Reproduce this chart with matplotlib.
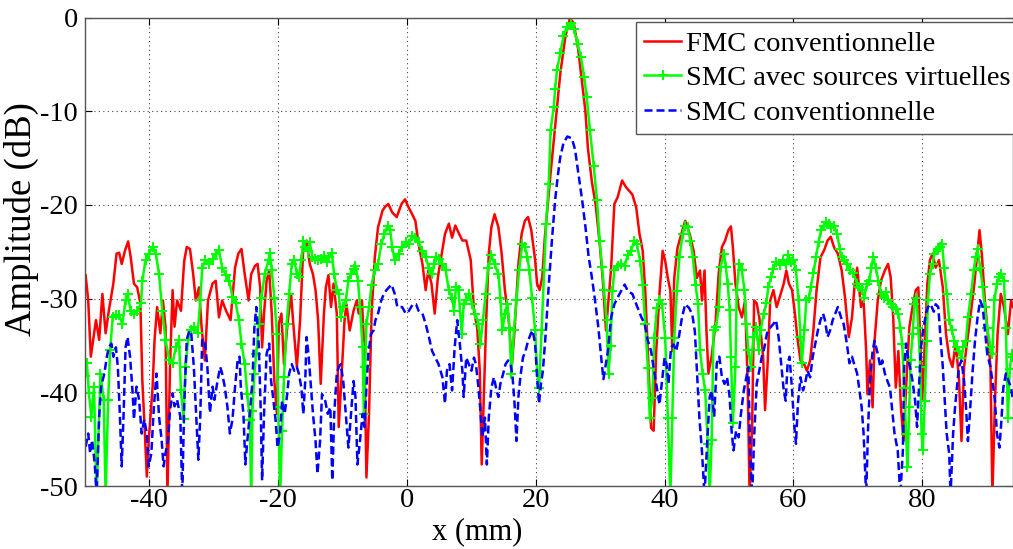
import matplotlib
matplotlib.use("Agg")
import matplotlib.pyplot as plt

plt.rcParams['font.family'] = ['Liberation Serif', 'DejaVu Serif']
plt.rcParams['axes.unicode_minus'] = False

# ---------------- data (x in mm, amplitude in dB) ----------------
fmc_x = [-49.9, -49.5, -49.1, -48.3, -47.8, -47.3, -46.8, -46.3, -45.6, -45.1, -44.7, -44.3, -43.8, -43.3,
         -42.9, -42.4, -41.9, -41.4, -41.1, -40.7, -40.4, -40.1, -39.5, -39.2, -38.8, -38.3, -37.9, -37.5,
         -37.2, -36.8, -36.4, -36.1, -35.7, -35.1, -34.6, -34.2, -33.7, -33.2, -32.8, -32.3, -31.9, -31.4,
         -30.9, -30.2, -29.7, -29.2, -28.7, -28.1, -27.4, -26.7, -26.2, -25.7,
         -25.2, -24.6, -24.2, -23.6, -23.2, -22.8, -22.5, -22.2, -21.8, -21.4, -21.0, -20.6, -20.2, -19.9,
         -19.5, -19.1, -18.5, -18.0, -17.7, -17.1, -16.6, -16.1, -15.6, -15.1, -14.6, -14.2, -13.8, -13.4,
         -12.9, -12.6, -12.2, -11.8, -11.4, -10.9, -10.6, -10.2, -9.7, -9.4, -8.9, -8.3, -7.8, -7.5, -7.0,
         -6.6, -6.3, -5.9, -5.5, -5.0, -4.5, -3.8, -3.4, -2.9, -2.3, -1.6,
         -0.85, -0.3, 0.2, 0.8, 1.3, 1.8, 2.4, 2.9, 3.3, 3.8, 4.3, 4.8, 5.4, 5.9, 6.5, 7.0, 7.5, 8.1, 8.6,
         9.2, 9.9, 10.4, 10.9, 11.3, 11.6, 11.9, 12.3, 12.7, 13.1, 13.6, 14.2, 14.7, 15.2, 15.8, 16.3, 16.7,
         17.3, 17.8, 18.3, 18.8, 19.3, 19.9, 20.2, 20.6, 21.0, 21.4,
         22.3, 23.0, 23.8, 24.6, 25.3, 25.9, 26.6, 27.2, 27.7, 28.1, 28.7, 29.3, 29.9, 30.4, 30.9, 31.3,
         31.7, 32.2, 32.7, 33.4, 34.0, 35.0, 35.6, 36.1, 36.6, 37.0, 37.4, 37.9, 38.3, 38.7, 39.2, 39.7,
         40.1, 40.5, 40.9, 41.2, 41.5, 42.0, 42.6, 43.2, 43.9, 44.5, 45.0,
         45.5, 45.8, 46.2, 46.5, 46.8, 47.3, 47.9, 48.4, 48.9, 49.4, 49.9, 50.3, 50.6, 51.0, 51.5, 52.0,
         52.5, 52.9, 53.2, 53.6, 53.9, 54.3, 54.7, 55.3, 55.6, 56.0, 56.4, 56.9, 57.4, 57.9, 58.5, 58.9,
         59.3, 59.8, 60.3, 60.6, 61.1, 61.6, 62.1, 62.6, 63.1, 63.6, 64.2, 64.8, 65.3, 65.8, 66.3, 66.9,
         67.5, 68.0, 68.6, 69.1, 69.5, 69.9,
         70.5, 70.9, 71.3, 71.5, 71.9, 72.3, 72.6, 73.1, 73.6, 74.2, 74.7, 75.1, 75.5, 75.9, 76.3, 76.7,
         77.1, 77.5, 78.0, 78.5, 79.0, 79.4, 79.7, 80.0, 80.4, 80.8, 81.2, 81.6, 82.1, 82.6, 83.2, 83.7,
         84.2, 84.7, 85.2, 85.7, 86.1, 86.5, 87.0, 87.6, 88.1, 88.5, 88.9, 89.3, 89.7, 90.1, 90.6, 90.9,
         91.3, 91.7, 92.2, 92.7, 93.3, 93.8, 94.1]
fmc_y = [-27.5, -30.2, -36.2, -32.3, -34.4, -29.5, -33.7, -31.3, -28.4, -25.2, -25.1, -26.3, -24.9, -23.9,
         -25.6, -28.4, -28.8, -30.5, -38.7, -44.4, -49.0, -45.1, -39.4, -34.4, -30.9, -33.7, -30.2, -33.0,
         -51.0, -37.3, -29.1, -33.0, -30.2, -31.3, -26.0, -24.5, -24.7, -27.4, -30.2, -28.8, -33.0, -36.6,
         -30.2, -28.4, -28.1, -32.0, -30.2, -31.3, -32.3, -26.7, -25.2, -24.7,
         -27.4, -30.2, -27.4, -26.5, -26.3, -28.8, -35.2, -31.6, -28.1, -27.0, -31.6, -38.8, -42.3, -32.7,
         -31.6, -37.0, -32.3, -29.5, -32.3, -37.3, -32.3, -24.5, -23.8, -26.3, -27.4, -29.1, -32.3, -39.1,
         -31.6, -28.8, -27.5, -30.9, -28.4, -31.6, -43.7, -38.8, -32.3, -30.6, -33.4, -31.3, -30.2, -31.6, -30.2,
         -35.9, -49.1, -42.3, -31.6, -25.6, -22.4, -20.6, -20.2, -19.9, -20.8, -21.3,
         -19.9, -19.4, -20.2, -21.0, -21.7, -24.2, -26.3, -29.1, -27.0, -28.4, -31.6, -27.7, -25.2, -23.1,
         -22.0, -23.5, -22.2, -23.1, -23.8, -23.8, -25.9, -31.3, -33.1, -37.7, -47.7, -41.2, -32.3, -25.2,
         -22.4, -21.0, -22.4, -25.2, -29.1, -32.3, -37.0, -33.4, -26.3, -23.1, -21.7, -21.3, -22.7, -25.9,
         -28.4, -29.1, -27.7, -23.5,
         -16.6, -11.7, -6.0, -2.0, -0.1, -0.6, -3.5, -7.0, -10.0, -14.0, -17.5, -20.0, -24.0, -28.0, -33.4,
         -30.0, -26.7, -19.9, -19.2, -17.4, -18.1, -18.9, -20.3, -23.1, -24.9, -29.2, -35.6, -43.8, -44.1,
         -35.6, -29.5, -24.9, -26.0, -27.8, -29.2, -35.6, -27.8, -24.6, -23.1, -21.7, -23.1, -24.9, -27.8,
         -27.0, -30.2, -27.0, -33.4, -38.0, -36.2, -32.7, -27.3, -24.5, -23.8, -22.7, -22.3, -24.5, -28.4,
         -30.9, -32.0, -30.2, -39.1, -51.0, -43.3, -30.2, -30.5, -32.0, -36.2, -41.9, -36.9, -30.2, -29.1,
         -30.9, -29.8, -28.4, -27.0, -28.4, -29.1, -32.0, -34.1, -36.6, -36.9, -37.7, -36.6, -33.4, -29.1,
         -25.6, -24.8, -23.8, -23.4, -24.5, -25.2, -27.0, -29.8, -34.1, -32.0, -28.6, -26.7,
         -30.9, -30.2, -35.6, -40.2, -36.6, -41.6, -34.5, -30.2, -28.1, -27.0, -26.3, -27.7, -32.0, -39.5,
         -35.6, -41.6, -45.2, -39.5, -33.1, -30.9, -29.1, -28.8, -34.5, -40.9, -34.8, -28.4, -25.9, -25.2,
         -26.7, -25.9, -28.8, -33.8, -36.3, -37.3, -34.8, -38.4, -45.2, -37.3, -34.5, -31.3, -28.4, -25.6,
         -22.7, -25.6, -29.9, -33.1, -37.3, -51.0, -40.9, -33.8, -29.5, -30.9, -33.8, -30.2, -30.9]

smcv_x = [-50.0, -49.7, -49.4, -49.0, -48.6, -48.2, -47.6, -47.1, -46.8, -46.4, -46.1, -45.7, -45.2, -44.7,
          -44.2, -43.7, -43.4, -42.9, -42.4, -41.9, -41.3, -41.1, -40.6, -40.1, -39.5, -39.0, -38.5, -38.0,
          -37.5, -36.9, -36.4, -35.9, -35.4, -35.1, -34.7, -34.4, -34.0, -33.6, -33.1, -32.5, -32.1, -31.8,
          -31.3, -30.7, -30.2, -29.7, -29.2, -28.7, -28.1, -27.6, -27.1, -26.6, -26.1, -25.7,
          -25.2, -24.8, -24.4, -24.2, -24.0, -23.7, -23.4, -23.0, -22.6, -22.1, -21.5, -21.3, -21.0, -20.6,
          -20.2, -20.0, -19.7, -19.4, -19.1, -18.7, -18.3, -17.9, -17.5, -17.1, -16.8, -16.4, -16.1, -15.9,
          -15.4, -15.1, -14.7, -14.3, -13.8, -13.3, -12.9, -12.4, -12.1, -11.7, -11.3, -10.9, -10.6, -10.3,
          -9.9, -9.5, -9.1, -8.7, -8.3, -8.0, -7.6, -7.3, -6.9, -6.7, -6.5, -6.3, -5.9, -5.5, -5.0, -4.5,
          -4.0, -3.5, -3.0, -2.6, -2.3, -1.9,
          -1.3, -0.75, -0.2, 0.3, 0.8, 1.3, 1.8, 2.4, 2.9, 3.4, 3.9, 4.2, 4.5, 4.9, 5.5, 6.0, 6.5, 7.0, 7.3,
          7.6, 8.0, 8.5, 8.8, 9.2, 9.7, 10.1, 10.6, 11.1, 11.4, 11.8, 12.2, 12.6, 13.1, 13.6, 14.2, 14.5,
          14.8, 15.2, 15.6, 15.9, 16.2, 16.6, 17.0, 17.4, 17.9, 18.3, 18.7, 19.0, 19.4, 19.9, 20.2, 20.5,
          20.9, 21.3, 21.6, 22.0,
          22.3, 22.8, 23.0, 23.3, 23.8, 24.3, 24.8, 25.4, 25.9, 26.5, 27.0, 27.5, 27.9, 28.4, 29.0, 29.5,
          29.9, 30.3, 30.6, 31.0, 31.3, 31.6,
          31.9, 32.2, 32.7, 33.2, 33.8, 34.3, 34.8, 35.3, 35.7, 36.2, 36.6, 37.0, 37.4, 37.7, 38.1, 38.4,
          38.8, 39.2, 39.6, 40.1, 40.5, 40.9, 41.2, 41.5, 41.9, 42.3, 42.8, 43.2, 43.6, 44.0, 44.4, 44.8, 45.2,
          45.5, 45.9, 46.3, 46.7, 47.0, 47.3, 47.6, 48.0, 48.4, 48.7, 49.2, 49.5, 49.8, 50.1, 50.3, 50.6,
          51.0, 51.2, 51.6, 52.0, 52.4, 52.7, 53.0, 53.4, 53.8, 54.2, 54.6, 54.9, 55.4, 55.8, 56.1, 56.5,
          56.9, 57.3, 57.9, 58.4, 58.9, 59.2, 59.6, 60.0, 60.4, 60.8, 61.1, 61.3, 61.7, 62.0, 62.4, 62.7,
          63.1, 63.5, 63.9, 64.3, 64.7, 65.1, 65.5, 65.9, 66.3, 66.8, 67.2, 67.5, 67.9, 68.3, 68.8, 69.3,
          69.9, 70.2, 70.6, 71.0, 71.4, 71.8, 72.1, 72.4, 72.8, 73.2, 73.6, 74.0, 74.4, 74.7, 75.1, 75.5,
          75.9, 76.3, 76.6, 76.9, 77.2, 77.5, 77.7, 78.0, 78.2, 78.5, 78.8, 79.1, 79.4, 79.7, 79.9, 80.1,
          80.4, 80.7, 80.9, 81.2, 81.6, 81.9, 82.4, 82.8, 83.1, 83.4, 83.8, 84.2, 84.6, 85.0, 85.4, 85.7,
          86.1, 86.4, 86.8, 87.1, 87.6, 88.0, 88.3, 88.6, 89.0, 89.4, 89.7, 90.1, 90.6, 90.9, 91.2, 91.6,
          91.9, 92.3, 92.7, 93.0, 93.3, 93.6, 93.9, 94.1]
smcv_y = [-38.3, -36.9, -40.1, -42.6, -39.4, -51.0, -38.0, -40.8, -51.0, -40.8, -35.5, -32.0, -31.7, -31.8,
          -32.7, -30.2, -29.5, -31.3, -31.6, -31.3, -30.5, -28.1, -25.9, -25.2, -24.5, -25.2, -27.4, -31.3,
          -34.4, -36.6, -36.9, -35.2, -34.4, -39.8, -42.9, -37.3, -34.4, -33.4, -33.0, -33.7, -30.2, -26.7,
          -25.9, -26.3, -25.8, -25.2, -24.8, -26.7, -27.5, -28.1, -29.8, -30.5, -32.3, -34.8,
          -37.0, -40.2, -43.0, -51.0, -42.0, -38.0, -35.9, -32.7, -29.9, -27.4, -25.9, -25.1, -27.0, -29.9,
          -33.8, -41.6, -51.0, -44.1, -38.4, -32.7, -29.5, -26.3, -25.9, -27.4, -27.7, -25.9, -23.8, -24.5,
          -24.9, -24.0, -25.6, -25.8, -25.9, -25.8, -25.5, -26.1, -25.6, -25.1, -27.4, -29.1, -29.5, -32.0,
          -30.9, -30.2, -28.1, -27.4, -26.8, -26.5, -28.1, -30.9, -35.2, -42.3, -37.3, -32.7, -30.9, -28.5,
          -27.0, -26.3, -24.2, -23.1, -22.2, -22.7, -24.5, -25.9,
          -25.2, -24.5, -24.0, -24.2, -23.3, -23.5, -24.0, -24.9, -25.6, -26.7, -27.4, -26.3, -25.6, -25.8,
          -26.3, -27.0, -29.1, -29.9, -31.3, -28.8, -29.1, -33.8, -30.6, -30.2, -29.5, -30.6, -31.6, -32.7,
          -34.8, -32.3, -29.5, -26.7, -25.4, -26.3, -27.4, -29.9, -33.4, -31.6, -30.6, -33.1, -38.0, -33.4,
          -30.2, -27.0, -24.2, -24.5, -25.6, -27.0, -29.9, -33.4, -37.7, -39.5, -33.4, -27.0, -22.0, -17.8,
          -12.0, -9.5, -7.6, -5.6, -3.8, -2.0, -1.0, -0.6, -1.2, -2.8, -4.2, -6.3, -8.5, -12.0, -15.9, -19.5,
          -23.8, -26.6, -29.1, -32.3, -38.0, -35.1,
          -29.2, -27.0, -26.5, -26.3, -26.5, -25.3, -24.9, -23.8, -24.2, -26.0, -28.5, -32.7, -37.4, -42.7,
          -40.6, -34.2, -31.0, -30.2, -30.6, -34.2, -42.7, -51.0, -42.7, -34.2, -29.2, -25.6, -23.1, -22.2,
          -22.4, -23.8, -25.6, -28.5, -30.6,
          -35.5, -38.0, -39.8, -45.5, -51.0, -45.1, -33.4, -33.0, -30.9, -26.6, -25.2, -26.6, -28.4, -31.2,
          -36.2, -43.3, -37.3, -29.1, -26.3, -27.0, -29.1, -32.7, -35.5, -37.3, -34.1, -33.0, -35.5, -33.4,
          -31.6, -30.5, -28.8, -27.7, -26.8, -26.1, -26.4, -25.9, -26.3, -25.4, -26.1, -25.9, -27.0, -30.2,
          -34.1, -36.9, -33.4, -30.2, -29.9, -28.8, -27.3, -25.6, -24.0, -22.7, -22.2, -21.8, -22.0, -22.5,
          -22.3, -23.1, -24.7, -25.6, -25.9, -26.3, -27.0, -27.3,
          -28.4, -28.8, -29.1, -29.9, -28.4, -28.1, -26.7, -25.6, -26.7, -28.1, -29.5, -29.9, -29.3, -30.2,
          -30.6, -30.9, -31.1, -31.6, -33.1, -34.8, -39.5, -44.4, -48.0, -41.6, -36.6, -33.8, -30.6, -29.9,
          -33.1, -37.3, -44.4, -46.2, -40.9, -34.5, -30.2, -27.4, -26.3, -25.2, -24.7, -24.5, -24.2, -26.7,
          -29.5, -32.3, -33.4, -34.5, -35.2, -35.6, -36.3, -35.2, -34.5, -32.0, -29.5, -27.0, -25.6, -24.7,
          -26.7, -28.8, -30.9, -33.1, -35.2, -35.9, -30.2, -28.4, -27.7, -27.4, -28.1, -33.1, -42.7, -37.5,
          -35.9, -36.2]

smc_x = [-49.9, -49.5, -49.2, -48.9, -48.5, -48.2, -47.8, -47.5, -47.0, -46.6, -46.3, -45.9, -45.6, -45.2,
         -44.9, -44.6, -44.3, -44.0, -43.7, -43.4, -43.0, -42.6, -42.4, -42.0, -41.6, -41.2, -40.8, -40.4,
         -40.1, -39.7, -39.3, -38.9, -38.5, -38.1, -37.8, -37.5, -37.1, -36.8, -36.4, -36.1, -35.7, -35.2,
         -34.9, -34.6, -34.2, -33.8, -33.5, -33.1, -32.8, -32.4, -32.1, -31.8, -31.4, -31.0, -30.6, -30.2,
         -29.9, -29.4, -29.0, -28.7, -28.3, -27.9, -27.5, -27.1, -26.7, -26.3, -26.0,
         -25.8, -25.4, -25.1, -24.8, -24.4, -24.0, -23.7, -23.4, -23.0, -22.7, -22.5, -22.2, -21.8, -21.4,
         -21.1, -20.8, -20.4, -20.1, -19.7, -19.4, -19.0, -18.6, -18.3, -17.9, -17.5, -17.1, -16.8, -16.4,
         -16.1, -15.8, -15.6, -15.3, -14.9, -14.6, -14.2, -13.9, -13.5, -13.2, -12.7, -12.3, -11.9, -11.6,
         -11.3, -10.9, -10.6, -10.3, -9.9, -9.5, -9.1, -8.7, -8.3, -8.0, -7.7, -7.3, -6.9, -6.6, -6.3, -6.0,
         -5.6, -5.2, -4.9, -4.5, -4.0, -3.6, -3.2, -2.8, -2.4, -1.9, -1.5,
         -0.75, -0.2, 0.3, 0.9, 1.4, 1.8, 2.4, 2.9, 3.4, 3.9, 4.4, 4.9, 5.5, 5.9, 6.2, 6.6, 7.0, 7.4, 7.8,
         8.2, 8.6, 8.8, 9.2, 9.6, 10.0, 10.4, 10.7, 11.1, 11.4, 11.7, 12.1, 12.4, 12.7, 13.1, 13.5, 13.9,
         14.2, 14.5, 14.9, 15.3, 15.7, 16.1, 16.4, 16.7, 17.0, 17.3, 17.6, 18.0, 18.4, 18.8, 19.2, 19.5,
         19.9, 20.2, 20.5, 20.8, 21.1, 21.5,
         22.0, 22.5, 23.0, 23.4, 23.8, 24.3, 24.9, 25.6, 26.1, 26.6, 27.2, 27.7, 28.2, 28.7, 29.2, 29.7,
         30.2, 30.5,
         31.2, 31.7, 32.2, 33.0, 33.8, 34.3, 35.0, 35.6, 36.4, 36.9, 37.4, 37.9, 38.3, 38.7, 39.2, 39.6,
         40.0, 40.3, 40.6, 41.0, 41.4, 41.8, 42.2, 42.7, 43.2, 43.8, 44.3, 44.7, 45.0, 45.4, 45.8, 46.2,
         46.6, 47.0, 47.3, 47.7, 48.1, 48.5, 48.9, 49.3, 49.7, 50.1, 50.4, 50.7, 51.1, 51.5, 51.8, 52.3,
         52.7, 53.0, 53.3, 53.6, 53.9, 54.3, 54.7, 55.1, 55.5, 55.9, 56.4, 56.9, 57.3, 57.7, 58.1, 58.5,
         58.8, 59.1, 59.4, 59.8, 60.1, 60.4, 60.7, 61.1, 61.5, 61.8, 62.2, 62.6, 63.0, 63.4, 63.8, 64.2,
         64.6, 64.9, 65.3, 65.7, 66.1, 66.5, 66.9, 67.4, 67.8, 68.3, 68.7, 69.1, 69.4,
         69.9, 70.2, 70.6, 70.9, 71.3, 71.6, 71.9, 72.3, 72.6, 73.1, 73.5, 73.8, 74.2, 74.6, 75.0, 75.4,
         75.7, 76.2, 76.6, 77.0, 77.2, 77.5, 77.8, 78.1, 78.5, 78.9, 79.2, 79.5, 79.8, 80.2, 80.6, 80.9,
         81.3, 81.8, 82.1, 82.5, 82.8, 83.2, 83.5, 83.8, 84.2, 84.4, 84.8, 85.1, 85.4, 85.7, 86.1, 86.5,
         86.8, 87.1, 87.4, 87.8, 88.2, 88.6, 89.0, 89.4, 89.7, 90.1, 90.6, 90.9, 91.3, 91.6, 92.0, 92.3,
         92.6, 93.0, 93.4, 93.8, 94.1]
smc_y = [-45.8, -44.4, -46.5, -45.1, -47.5, -51.0, -42.6, -39.4, -38.0, -36.2, -35.2, -34.8, -36.2, -35.2,
         -37.3, -42.2, -47.9, -42.2, -35.2, -34.1, -36.2, -40.1, -42.9, -39.4, -40.8, -44.4, -42.9, -44.4,
         -47.9, -46.5, -41.5, -38.0, -42.6, -45.1, -47.9, -46.5, -45.1, -41.9, -40.1, -41.5, -40.8, -42.6,
         -51.0, -41.5, -34.4, -33.4, -33.7, -37.3, -41.5, -47.2, -42.6, -34.4, -34.4, -37.3, -42.2, -39.4,
         -40.8, -38.7, -37.3, -38.0, -39.4, -41.5, -44.4, -42.9, -39.4, -36.6, -36.2,
         -39.5, -42.3, -47.7, -45.2, -42.3, -38.8, -33.1, -30.9, -35.2, -42.3, -49.4, -42.3, -35.9, -34.8,
         -38.8, -40.5, -43.0, -45.9, -44.4, -40.9, -42.3, -40.2, -38.0, -37.0, -37.7, -37.3, -38.0, -39.5,
         -42.3, -38.8, -34.1, -35.9, -39.5, -42.3, -45.2, -48.7, -45.2, -40.2, -40.9, -42.3, -41.6, -49.4,
         -42.3, -38.0, -37.3, -37.0, -38.8, -42.3, -45.9, -42.3, -38.8, -40.5, -47.7, -45.2, -42.3, -43.7,
         -39.5, -35.9, -33.8, -33.4, -32.3, -31.6, -30.2, -29.5, -29.1, -28.8, -28.5, -29.5, -30.9,
         -30.9, -31.6, -31.3, -30.6, -30.6, -31.3, -31.6, -32.7, -34.1, -35.6, -36.3, -37.0, -38.4, -41.2,
         -37.7, -37.0, -39.8, -35.2, -32.3, -34.8, -37.7, -40.5, -36.3, -37.0, -37.7, -36.3, -37.0, -39.5,
         -42.0, -44.8, -42.7, -47.7, -42.7, -39.5, -38.4, -39.8, -40.5, -39.1, -38.1, -37.0, -36.6, -37.0,
         -38.4, -41.2, -45.2, -40.5, -38.4, -36.3, -35.6, -34.5, -33.8, -33.4, -34.8, -38.4, -41.2, -39.1,
         -37.7, -34.1,
         -28.7, -23.8, -19.5, -17.0, -14.9, -13.4, -12.7, -12.9, -14.1, -16.6, -19.5, -22.3, -25.5, -27.7,
         -30.2, -33.0, -36.6, -38.6,
         -35.6, -32.0, -30.6, -29.5, -28.5, -29.2, -29.5, -30.6, -32.0, -32.7, -34.5, -35.6, -37.4, -39.1,
         -41.3, -38.8, -36.3, -37.0, -39.1, -35.2, -34.9, -35.6, -34.2, -32.0, -30.6, -31.0, -31.7, -33.5,
         -37.4, -42.7, -46.3, -51.0,
         -45.5, -40.5, -39.8, -42.6, -36.9, -36.2, -38.4, -39.1, -38.4, -40.5, -44.1, -46.2, -44.1, -44.8,
         -42.6, -39.8, -38.4, -37.3, -46.9, -51.0, -44.8, -39.1, -37.7, -36.2, -35.2, -33.7, -33.1, -32.7,
         -32.3, -34.1, -36.9, -39.8, -40.9, -36.9, -36.2, -39.8, -43.3, -45.5, -41.2, -38.4, -39.8, -39.1,
         -37.7, -38.4, -36.2, -34.8, -33.4, -32.3, -31.6, -32.3, -34.1, -33.4, -32.3, -31.6, -30.9, -32.0,
         -32.7, -34.8, -36.9, -36.2, -36.9,
         -38.0, -39.5, -41.6, -44.4, -51.0, -43.7, -38.8, -35.6, -34.5, -35.9, -37.3, -36.6, -38.0, -38.8,
         -39.5, -42.3, -44.4, -46.2, -51.0, -46.2, -37.3, -34.8, -36.3, -37.3, -38.8, -40.9, -43.7, -39.5,
         -35.2, -33.1, -31.6, -30.9, -30.6, -31.4, -30.6, -30.9, -33.8, -37.3, -40.9, -44.4, -46.6, -51.0,
         -44.4, -41.6, -39.5, -37.3, -36.6, -38.8, -41.6, -45.2, -42.3, -38.0, -34.5, -32.0, -30.2, -30.9,
         -33.1, -35.9, -37.3, -38.8, -40.9, -44.4, -45.9, -43.0, -39.5, -38.0, -38.8, -39.5, -40.9]

x_ticks = [-40, -20, 0, 20, 40, 60, 80]
y_ticks = [0, -10, -20, -30, -40, -50]
labels = ["FMC conventionnelle", "SMC avec sources virtuelles", "SMC conventionnelle"]

# ---------------- figure ----------------
fig = plt.figure(figsize=(10.13, 5.49), dpi=100)
ax = fig.add_axes([85 / 1013, 63 / 549, 1 - 85 / 1013, 468.5 / 549])

ax.plot(fmc_x, fmc_y, color='#ff0000', lw=1.8, label=labels[0])
ax.plot(smcv_x, smcv_y, color='#00ff00', lw=1.8, marker='+', ms=7, mew=1.4, label=labels[1])
ax.plot(smc_x, smc_y, color='#0000ff', lw=1.8, ls=(0, (3.2, 1.6)), label=labels[2])

ax.set_xlim(-50, 94.1)
ax.set_ylim(-50, 0)
ax.set_xticks(x_ticks)
ax.set_yticks(y_ticks)
ax.tick_params(direction='in', top=True, right=True, length=5, width=0.8,
               labelsize=20.5, colors='black')
ax.tick_params(axis='x', pad=1.5)
ax.tick_params(axis='y', pad=5)
for sp in ax.spines.values():
    sp.set_color('#555555')
    sp.set_linewidth(1.0)
ax.grid(True, color='#444444', linestyle=(0, (1, 3)), linewidth=0.8)

ax.set_xlabel("x (mm)", fontsize=22, va='center', ha='center')
ax.xaxis.set_label_coords((477 - 85) / 928, (486 - 532) / 468.5)
ax.set_ylabel("Amplitude (dB)", fontsize=26.5, va='center', ha='center', rotation_mode='anchor')
ax.yaxis.set_label_coords((21 - 85) / 928, (486 - 219) / 468.5)

leg = ax.legend(loc='upper right', bbox_to_anchor=(1.006, 0.990), fontsize=20.5, frameon=True,
                fancybox=False, edgecolor='#555555', framealpha=1, borderpad=0.3,
                labelspacing=0.3, handlelength=1.3, handletextpad=0.15, borderaxespad=0.0)
leg.get_frame().set_linewidth(1.0)

fig.savefig("out.png", dpi=100)
